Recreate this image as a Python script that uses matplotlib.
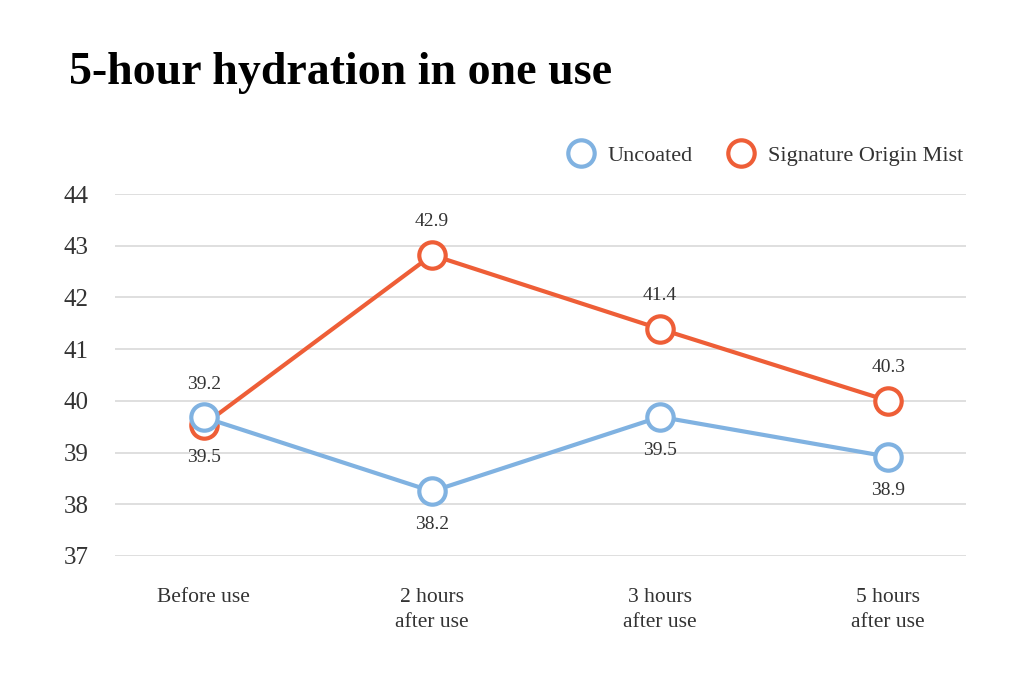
import matplotlib
matplotlib.use("Agg")
import matplotlib.pyplot as plt
from matplotlib.lines import Line2D

# ---- data ----
categories = ["Before use", "2 hours\nafter use", "3 hours\nafter use", "5 hours\nafter use"]
uncoated = [39.68, 38.25, 39.69, 38.92]
mist = [39.54, 42.82, 41.39, 40.0]
uncoated_labels = ["39.5", "38.2", "39.5", "38.9"]
mist_labels = ["39.2", "42.9", "41.4", "40.3"]
yticks = [37, 38, 39, 40, 41, 42, 43, 44]

blue = "#80B2E1"
orange = "#EE5E37"
txt = "#333333"

plt.rcParams['font.family'] = ['Liberation Serif', 'DejaVu Serif']

fig = plt.figure(figsize=(10.22, 6.8), dpi=100)
ax = fig.add_axes([0.1125, 0.1824, 0.8325, 0.5323])

x = list(range(len(categories)))

ax.plot(x, mist, color=orange, lw=3, marker='o', ms=19, mew=3,
        mfc='white', mec=orange, zorder=3)
ax.plot(x, uncoated, color=blue, lw=3, marker='o', ms=19, mew=3,
        mfc='white', mec=blue, zorder=4)

# value labels: orange above, blue below
for i in x:
    top = max(mist[i], uncoated[i]) if i == 0 else mist[i]
    bot = min(mist[i], uncoated[i]) if i == 0 else uncoated[i]
    ax.annotate(mist_labels[i], (i, top), xytext=(0, 24), textcoords='offset points',
                ha='center', va='center', fontsize=14, color=txt)
    ax.annotate(uncoated_labels[i], (i, bot), xytext=(0, -24), textcoords='offset points',
                ha='center', va='center', fontsize=14, color=txt)

ax.set_ylim(37, 44)
ax.set_xlim(-0.39, 3.34)
ax.set_yticks(yticks)
ax.set_xticks(x)
ax.set_xticklabels(categories, linespacing=1.45)
ax.tick_params(axis='y', length=0, pad=19, labelsize=18, labelcolor=txt)
ax.tick_params(axis='x', length=0, pad=23, labelsize=15.5, labelcolor=txt)
ax.grid(axis='y', color='#D9D9D9', lw=1.2)
ax.set_axisbelow(True)
for s in ax.spines.values():
    s.set_visible(False)

handles = [
    Line2D([], [], ls='none', marker='o', ms=19, mew=3, mfc='white', mec=blue),
    Line2D([], [], ls='none', marker='o', ms=19, mew=3, mfc='white', mec=orange),
]
leg = fig.legend(handles, ["Uncoated", "Signature Origin Mist"], ncol=2,
                 loc='center right', bbox_to_anchor=(0.962, 0.771), frameon=False,
                 fontsize=16, handletextpad=0.6, columnspacing=1.6, handlelength=1.2)
for t in leg.get_texts():
    t.set_color(txt)

fig.text(0.068, 0.893, "5-hour hydration in one use", fontsize=33,
         fontweight='bold', color='black', ha='left', va='center')

fig.savefig("out.png", dpi=100)
